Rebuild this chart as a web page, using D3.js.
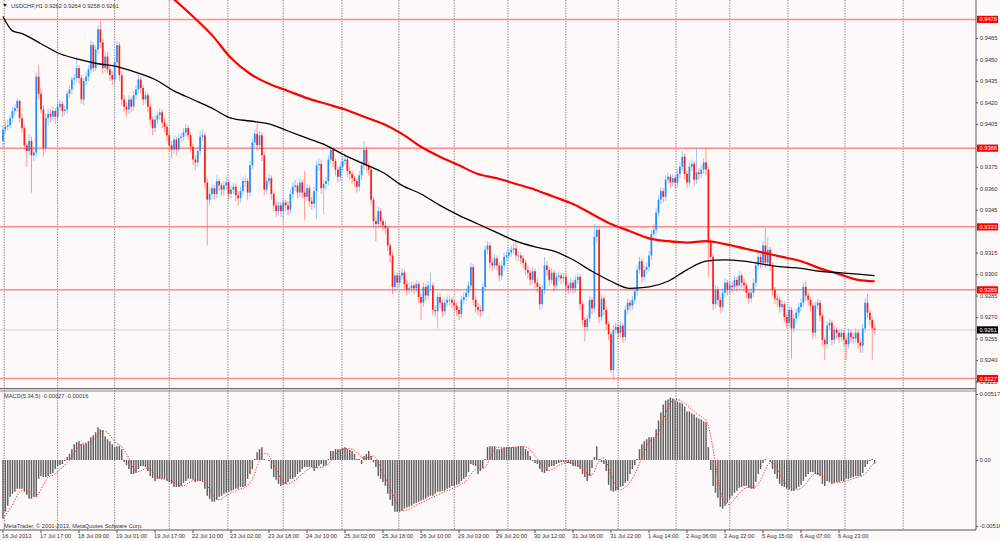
<!DOCTYPE html>
<html>
<head>
<meta charset="utf-8">
<script src="https://cdn.jsdelivr.net/npm/d3@7/dist/d3.min.js"></script>
<style>
  html, body { margin: 0; padding: 0; background: #fdf9f8; }
  svg { display: block; font-family: "Liberation Sans", Arial, sans-serif; }
</style>
</head>
<body>
<svg id="chart" width="1000" height="541"></svg>
<script>
// ---- USDCHF H1, 16 Jul - 7 Aug 2013 ----
const symbolTitle = 'USDCHF,H1  0.9262 0.9264 0.9258 0.9261';
const macdTitle   = 'MACD(5,34,5) -0.00027 -0.00016';
const copyright   = 'MetaTrader, \u00a9 2001-2013, MetaQuotes Software Corp.';

const firstOpen = 0.9393;
const closes = [
  0.9401,0.9403,0.9404,0.9409,0.9414,0.9416,0.9421,0.9409,0.9402,0.9390,
  0.9386,0.9393,0.9383,0.9385,0.9438,0.9426,0.9415,0.9388,0.9409,0.9412,
  0.9410,0.9414,0.9410,0.9417,0.9419,0.9414,0.9415,0.9426,0.9429,0.9436,
  0.9437,0.9444,0.9437,0.9422,0.9435,0.9438,0.9443,0.9460,0.9444,0.9457,
  0.9471,0.9462,0.9444,0.9452,0.9443,0.9439,0.9436,0.9448,0.9460,0.9439,
  0.9422,0.9417,0.9415,0.9422,0.9417,0.9425,0.9429,0.9436,0.9430,0.9422,
  0.9425,0.9417,0.9408,0.9402,0.9408,0.9411,0.9413,0.9406,0.9403,0.9397,
  0.9390,0.9387,0.9394,0.9387,0.9395,0.9396,0.9399,0.9402,0.9397,0.9389,
  0.9380,0.9378,0.9386,0.9396,0.9397,0.9364,0.9352,0.9356,0.9360,0.9356,
  0.9365,0.9362,0.9359,0.9362,0.9364,0.9356,0.9359,0.9361,0.9355,0.9353,
  0.9358,0.9365,0.9365,0.9357,0.9376,0.9392,0.9398,0.9390,0.9397,0.9383,
  0.9359,0.9365,0.9367,0.9356,0.9348,0.9344,0.9348,0.9344,0.9350,0.9348,
  0.9345,0.9356,0.9361,0.9362,0.9357,0.9364,0.9357,0.9354,0.9360,0.9351,
  0.9349,0.9358,0.9376,0.9377,0.9360,0.9363,0.9365,0.9380,0.9387,0.9379,
  0.9373,0.9368,0.9375,0.9379,0.9380,0.9372,0.9370,0.9367,0.9365,0.9361,
  0.9369,0.9376,0.9387,0.9376,0.9373,0.9352,0.9337,0.9335,0.9344,0.9337,
  0.9334,0.9332,0.9320,0.9313,0.9291,0.9299,0.9294,0.9299,0.9301,0.9293,
  0.9289,0.9290,0.9292,0.9290,0.9293,0.9284,0.9280,0.9291,0.9285,0.9292,
  0.9292,0.9275,0.9274,0.9284,0.9280,0.9274,0.9280,0.9282,0.9282,0.9280,
  0.9278,0.9275,0.9272,0.9282,0.9284,0.9287,0.9292,0.9305,0.9282,0.9277,
  0.9275,0.9274,0.9291,0.9317,0.9320,0.9308,0.9306,0.9311,0.9306,0.9299,
  0.9306,0.9312,0.9313,0.9315,0.9317,0.9318,0.9313,0.9313,0.9311,0.9308,
  0.9303,0.9301,0.9296,0.9302,0.9294,0.9291,0.9279,0.9289,0.9306,0.9303,
  0.9296,0.9301,0.9292,0.9298,0.9299,0.9297,0.9298,0.9292,0.9290,0.9294,
  0.9290,0.9296,0.9298,0.9279,0.9268,0.9263,0.9269,0.9282,0.9276,0.9326,
  0.9331,0.9270,0.9283,0.9275,0.9265,0.9258,0.9233,0.9261,0.9263,0.9259,
  0.9264,0.9256,0.9275,0.9280,0.9278,0.9282,0.9288,0.9303,0.9309,0.9298,
  0.9303,0.9305,0.9313,0.9328,0.9331,0.9343,0.9352,0.9358,0.9354,0.9366,
  0.9368,0.9364,0.9367,0.9364,0.9370,0.9375,0.9382,0.9370,0.9364,0.9375,
  0.9377,0.9366,0.9371,0.9370,0.9373,0.9378,0.9373,0.9322,0.9312,0.9279,
  0.9289,0.9282,0.9277,0.9287,0.9294,0.9289,0.9292,0.9291,0.9296,0.9292,
  0.9299,0.9294,0.9292,0.9287,0.9283,0.9287,0.9294,0.9306,0.9312,0.9308,
  0.9320,0.9308,0.9317,0.9306,0.9289,0.9283,0.9282,0.9277,0.9279,0.9270,
  0.9266,0.9275,0.9262,0.9269,0.9273,0.9277,0.9280,0.9291,0.9285,0.9282,
  0.9278,0.9259,0.9278,0.9280,0.9271,0.9254,0.9251,0.9264,0.9266,0.9254,
  0.9261,0.9259,0.9256,0.9259,0.9254,0.9251,0.9259,0.9256,0.9255,0.9259,
  0.9252,0.9250,0.9262,0.9280,0.9273,0.9268,0.9262,0.9261
];
const highs = [
  0.9404,0.9407,0.9408,0.9411,0.9417,0.9419,0.9423,0.9422,0.9412,0.9404,
  0.9392,0.9398,0.9396,0.9389,0.9441,0.9446,0.9430,0.9418,0.9412,0.9416,
  0.9415,0.9417,0.9416,0.9420,0.9422,0.9421,0.9418,0.9428,0.9432,0.9438,
  0.9440,0.9452,0.9446,0.9439,0.9437,0.9441,0.9446,0.9463,0.9462,0.9460,
  0.9474,0.9477,0.9464,0.9456,0.9455,0.9446,0.9442,0.9451,0.9463,0.9462,
  0.9442,0.9425,0.9420,0.9425,0.9424,0.9428,0.9432,0.9440,0.9438,0.9432,
  0.9428,0.9427,0.9419,0.9410,0.9411,0.9414,0.9416,0.9415,0.9409,0.9405,
  0.9399,0.9393,0.9397,0.9396,0.9398,0.9399,0.9402,0.9405,0.9404,0.9399,
  0.9391,0.9383,0.9389,0.9400,0.9401,0.9399,0.9367,0.9360,0.9363,0.9362,
  0.9369,0.9367,0.9364,0.9365,0.9368,0.9366,0.9362,0.9364,0.9363,0.9358,
  0.9361,0.9368,0.9369,0.9367,0.9379,0.9395,0.9401,0.9405,0.9400,0.9399,
  0.9385,0.9368,0.9370,0.9369,0.9358,0.9350,0.9351,0.9350,0.9353,0.9352,
  0.9351,0.9359,0.9364,0.9366,0.9364,0.9367,0.9366,0.9372,0.9363,0.9362,
  0.9354,0.9361,0.9379,0.9381,0.9380,0.9366,0.9368,0.9383,0.9390,0.9389,
  0.9381,0.9375,0.9378,0.9382,0.9384,0.9382,0.9375,0.9372,0.9369,0.9367,
  0.9372,0.9379,0.9393,0.9389,0.9378,0.9375,0.9354,0.9340,0.9347,0.9346,
  0.9339,0.9337,0.9334,0.9322,0.9315,0.9302,0.9301,0.9302,0.9304,0.9303,
  0.9296,0.9294,0.9295,0.9294,0.9296,0.9295,0.9286,0.9294,0.9293,0.9295,
  0.9301,0.9294,0.9278,0.9287,0.9287,0.9282,0.9283,0.9285,0.9285,0.9284,
  0.9282,0.9280,0.9277,0.9285,0.9287,0.9290,0.9295,0.9308,0.9307,0.9285,
  0.9280,0.9278,0.9294,0.9320,0.9323,0.9322,0.9311,0.9314,0.9313,0.9308,
  0.9309,0.9315,0.9316,0.9318,0.9320,0.9322,0.9324,0.9316,0.9315,0.9313,
  0.9310,0.9306,0.9303,0.9305,0.9304,0.9297,0.9293,0.9292,0.9312,0.9309,
  0.9305,0.9304,0.9303,0.9301,0.9302,0.9301,0.9301,0.9300,0.9294,0.9297,
  0.9296,0.9299,0.9301,0.9300,0.9281,0.9270,0.9272,0.9285,0.9284,0.9335,
  0.9334,0.9333,0.9286,0.9285,0.9277,0.9267,0.9260,0.9264,0.9266,0.9265,
  0.9267,0.9266,0.9278,0.9283,0.9282,0.9285,0.9291,0.9306,0.9312,0.9311,
  0.9306,0.9308,0.9316,0.9331,0.9335,0.9346,0.9355,0.9361,0.9360,0.9369,
  0.9371,0.9370,0.9370,0.9369,0.9373,0.9378,0.9386,0.9384,0.9372,0.9378,
  0.9380,0.9379,0.9388,0.9374,0.9376,0.9381,0.9388,0.9375,0.9325,0.9314,
  0.9292,0.9291,0.9284,0.9290,0.9297,0.9296,0.9295,0.9295,0.9299,0.9298,
  0.9302,0.9301,0.9297,0.9294,0.9289,0.9290,0.9297,0.9309,0.9315,0.9314,
  0.9323,0.9332,0.9326,0.9319,0.9308,0.9291,0.9286,0.9284,0.9282,0.9281,
  0.9272,0.9278,0.9277,0.9272,0.9276,0.9280,0.9283,0.9294,0.9295,0.9287,
  0.9284,0.9280,0.9281,0.9283,0.9282,0.9273,0.9256,0.9267,0.9269,0.9268,
  0.9264,0.9263,0.9261,0.9262,0.9261,0.9256,0.9262,0.9261,0.9259,0.9262,
  0.9261,0.9254,0.9265,0.9283,0.9286,0.9275,0.9270,0.9264
];
const lows = [
  0.9388,0.9398,0.9400,0.9402,0.9406,0.9411,0.9413,0.9406,0.9399,0.9387,
  0.9375,0.9383,0.9357,0.9379,0.9382,0.9422,0.9412,0.9382,0.9385,0.9404,
  0.9406,0.9407,0.9405,0.9407,0.9414,0.9410,0.9411,0.9412,0.9423,0.9426,
  0.9432,0.9434,0.9433,0.9419,0.9418,0.9432,0.9435,0.9440,0.9441,0.9442,
  0.9454,0.9458,0.9440,0.9441,0.9440,0.9435,0.9432,0.9433,0.9445,0.9435,
  0.9418,0.9413,0.9410,0.9412,0.9413,0.9414,0.9422,0.9426,0.9426,0.9418,
  0.9419,0.9413,0.9404,0.9397,0.9399,0.9405,0.9408,0.9402,0.9399,0.9393,
  0.9386,0.9381,0.9384,0.9383,0.9385,0.9392,0.9393,0.9396,0.9394,0.9385,
  0.9376,0.9373,0.9375,0.9383,0.9393,0.9360,0.9320,0.9348,0.9352,0.9352,
  0.9353,0.9358,0.9355,0.9355,0.9359,0.9352,0.9353,0.9356,0.9351,0.9348,
  0.9350,0.9355,0.9361,0.9352,0.9354,0.9373,0.9389,0.9386,0.9387,0.9379,
  0.9355,0.9356,0.9362,0.9352,0.9344,0.9340,0.9341,0.9340,0.9339,0.9344,
  0.9341,0.9342,0.9353,0.9358,0.9353,0.9354,0.9353,0.9338,0.9351,0.9347,
  0.9345,0.9346,0.9339,0.9372,0.9356,0.9342,0.9359,0.9362,0.9377,0.9375,
  0.9369,0.9364,0.9365,0.9372,0.9376,0.9368,0.9366,0.9363,0.9361,0.9357,
  0.9358,0.9366,0.9373,0.9372,0.9369,0.9348,0.9333,0.9323,0.9332,0.9333,
  0.9330,0.9328,0.9316,0.9308,0.9286,0.9287,0.9290,0.9291,0.9296,0.9289,
  0.9285,0.9286,0.9287,0.9286,0.9287,0.9280,0.9268,0.9277,0.9281,0.9282,
  0.9288,0.9271,0.9270,0.9262,0.9276,0.9270,0.9271,0.9277,0.9278,0.9276,
  0.9274,0.9271,0.9268,0.9269,0.9279,0.9281,0.9284,0.9289,0.9278,0.9273,
  0.9271,0.9270,0.9271,0.9288,0.9314,0.9304,0.9302,0.9303,0.9302,0.9295,
  0.9296,0.9303,0.9309,0.9310,0.9312,0.9314,0.9310,0.9309,0.9307,0.9304,
  0.9299,0.9297,0.9292,0.9293,0.9290,0.9287,0.9275,0.9276,0.9286,0.9299,
  0.9292,0.9293,0.9288,0.9289,0.9295,0.9293,0.9294,0.9288,0.9286,0.9287,
  0.9286,0.9287,0.9293,0.9275,0.9264,0.9253,0.9260,0.9266,0.9272,0.9273,
  0.9322,0.9266,0.9267,0.9271,0.9261,0.9254,0.9231,0.9227,0.9258,0.9255,
  0.9256,0.9252,0.9253,0.9272,0.9274,0.9275,0.9279,0.9285,0.9300,0.9294,
  0.9295,0.9300,0.9302,0.9310,0.9325,0.9328,0.9340,0.9349,0.9350,0.9351,
  0.9363,0.9360,0.9361,0.9360,0.9361,0.9367,0.9372,0.9366,0.9360,0.9361,
  0.9372,0.9362,0.9363,0.9366,0.9367,0.9370,0.9369,0.9298,0.9308,0.9275,
  0.9276,0.9278,0.9273,0.9274,0.9284,0.9285,0.9286,0.9287,0.9288,0.9288,
  0.9289,0.9290,0.9288,0.9283,0.9279,0.9280,0.9284,0.9291,0.9303,0.9304,
  0.9305,0.9304,0.9305,0.9302,0.9285,0.9279,0.9278,0.9273,0.9274,0.9266,
  0.9262,0.9263,0.9241,0.9259,0.9266,0.9270,0.9274,0.9277,0.9281,0.9278,
  0.9274,0.9255,0.9256,0.9275,0.9267,0.9250,0.9240,0.9248,0.9261,0.9250,
  0.9251,0.9255,0.9252,0.9253,0.9250,0.9240,0.9248,0.9252,0.9251,0.9252,
  0.9248,0.9245,0.9245,0.9259,0.9269,0.9264,0.9240,0.9258
];

// moving averages read at selected bars
const blackMaBars = [0,4,8,16,24,32,40,48,56,64,72,80,88,96,104,112,120,128,136,144,152,160,168,176,184,
  192,200,208,216,224,232,240,248,256,264,272,280,288,296,304,312,320,328,336,344,352,360,367];
const blackMaVals = [0.9480,0.9470,0.9468,0.9461,0.9454,0.9450,0.9447,0.9445,0.9441,0.9436,0.9428,0.9422,
  0.9416,0.9409,0.9407,0.9405,0.9400,0.9395,0.9390,0.9383,0.9377,0.9371,0.9362,0.9356,0.9348,0.9341,
  0.9335,0.9329,0.9323,0.9319,0.9316,0.9310,0.9302,0.9295,0.9290,0.9291,0.9295,0.9303,0.9309,0.9310,
  0.9309,0.9307,0.9305,0.9304,0.9302,0.9301,0.9300,0.9299];
const redMaBars = [70,80,88,96,104,112,120,128,136,144,152,160,168,176,184,192,200,208,216,224,232,240,
  248,256,264,272,280,288,296,304,312,320,328,336,344,352,360,367];
const redMaVals = [0.9495,0.9480,0.9467,0.9451,0.9440,0.9433,0.9428,0.9423,0.9419,0.9415,0.9410,0.9405,
  0.9398,0.9389,0.9382,0.9376,0.9370,0.9367,0.9363,0.9359,0.9354,0.9349,0.9342,0.9335,0.9330,0.9325,
  0.9323,0.9322,0.9323,0.9321,0.9318,0.9315,0.9312,0.9309,0.9304,0.9300,0.9296,0.9295];

const macdHist = [
  -0.00458,-0.00404,-0.00357,-0.00287,-0.00264,-0.00248,-0.00225,-0.00225,-0.00225,-0.00248,
  -0.00272,-0.00303,-0.00303,-0.00287,-0.00287,-0.00147,-0.00124,-0.00132,-0.00132,-0.00124,
  -0.00109,-0.00101,-0.00070,-0.00047,-0.00039,-0.00031,-0.00008,0.00023,0.00047,0.00085,
  0.00124,0.00140,0.00147,0.00124,0.00124,0.00132,0.00147,0.00178,0.00194,0.00217,
  0.00256,0.00241,0.00233,0.00186,0.00163,0.00147,0.00124,0.00101,0.00109,0.00109,
  0.00085,-0.00016,-0.00039,-0.00070,-0.00109,-0.00109,-0.00101,-0.00070,-0.00047,-0.00047,
  -0.00054,-0.00085,-0.00124,-0.00140,-0.00163,-0.00147,-0.00147,-0.00147,-0.00147,-0.00163,
  -0.00171,-0.00186,-0.00210,-0.00210,-0.00210,-0.00202,-0.00178,-0.00163,-0.00147,-0.00147,
  -0.00155,-0.00171,-0.00163,-0.00163,-0.00171,-0.00225,-0.00279,-0.00303,-0.00326,-0.00326,
  -0.00310,-0.00287,-0.00279,-0.00264,-0.00256,-0.00248,-0.00241,-0.00233,-0.00225,-0.00225,
  -0.00210,-0.00210,-0.00202,-0.00147,-0.00109,-0.00070,0.00008,0.00062,0.00085,0.00101,
  0.00008,0.00000,-0.00008,-0.00070,-0.00132,-0.00155,-0.00186,-0.00202,-0.00194,-0.00186,
  -0.00171,-0.00147,-0.00147,-0.00132,-0.00109,-0.00093,-0.00070,-0.00054,-0.00054,-0.00054,
  -0.00054,-0.00085,-0.00062,-0.00047,-0.00031,-0.00047,-0.00039,0.00008,0.00070,0.00070,
  0.00085,0.00085,0.00085,0.00093,0.00101,0.00085,0.00078,0.00070,0.00047,0.00008,
  0.00008,-0.00031,0.00031,0.00047,0.00070,0.00031,-0.00016,-0.00054,-0.00124,-0.00147,
  -0.00171,-0.00202,-0.00264,-0.00310,-0.00357,-0.00404,-0.00404,-0.00404,-0.00396,-0.00380,
  -0.00372,-0.00365,-0.00357,-0.00341,-0.00334,-0.00326,-0.00318,-0.00310,-0.00303,-0.00287,
  -0.00279,-0.00279,-0.00264,-0.00248,-0.00248,-0.00241,-0.00241,-0.00225,-0.00217,-0.00202,
  -0.00202,-0.00194,-0.00186,-0.00163,-0.00147,-0.00132,-0.00093,-0.00031,-0.00039,-0.00047,
  -0.00109,-0.00085,-0.00062,0.00008,0.00101,0.00109,0.00109,0.00109,0.00085,0.00085,
  0.00093,0.00101,0.00101,0.00101,0.00101,0.00101,0.00101,0.00109,0.00109,0.00109,
  0.00085,0.00070,0.00031,-0.00008,-0.00023,-0.00031,-0.00070,-0.00093,-0.00101,-0.00085,
  -0.00054,-0.00047,-0.00047,-0.00031,-0.00023,-0.00016,-0.00016,-0.00016,-0.00023,-0.00031,
  -0.00047,-0.00047,-0.00054,-0.00070,-0.00109,-0.00132,-0.00163,-0.00124,-0.00062,0.00023,
  0.00109,0.00008,-0.00016,-0.00031,-0.00085,-0.00194,-0.00241,-0.00248,-0.00241,-0.00233,
  -0.00210,-0.00202,-0.00178,-0.00163,-0.00109,-0.00070,-0.00039,0.00008,0.00085,0.00124,
  0.00147,0.00163,0.00178,0.00178,0.00178,0.00241,0.00310,0.00372,0.00435,0.00466,
  0.00473,0.00489,0.00481,0.00466,0.00458,0.00450,0.00442,0.00419,0.00380,0.00380,
  0.00365,0.00357,0.00334,0.00326,0.00318,0.00303,0.00295,0.00101,-0.00078,-0.00202,
  -0.00256,-0.00295,-0.00365,-0.00380,-0.00357,-0.00334,-0.00303,-0.00279,-0.00256,-0.00241,
  -0.00217,-0.00210,-0.00202,-0.00202,-0.00217,-0.00225,-0.00225,-0.00171,-0.00109,-0.00070,
  -0.00023,0.00008,0.00000,-0.00016,-0.00070,-0.00109,-0.00147,-0.00186,-0.00202,-0.00210,
  -0.00225,-0.00233,-0.00241,-0.00241,-0.00225,-0.00210,-0.00194,-0.00163,-0.00132,-0.00109,
  -0.00093,-0.00093,-0.00109,-0.00116,-0.00124,-0.00186,-0.00202,-0.00163,-0.00171,-0.00186,
  -0.00178,-0.00171,-0.00171,-0.00163,-0.00163,-0.00147,-0.00147,-0.00140,-0.00132,-0.00124,
  -0.00124,-0.00124,-0.00101,-0.00054,-0.00031,-0.00008,0.00008,-0.00027
];

const levelLines  = [0.9478, 0.9388, 0.9333, 0.9289, 0.9227];
const lastPrice   = 0.9261;
// 0.9390 and 0.9330 sit under the red level tags, so they are not labelled
const priceTicks  = [0.9465,0.9450,0.9435,0.9420,0.9405,0.9375,0.9360,0.9345,
  0.9315,0.9300,0.9285,0.9270,0.9255,0.9240,0.9225];
const macdTicks   = [0.00517, 0, -0.00516];
const macdTickLabels = ['0.00517', '0.00', '-0.00516'];
const gridBars    = [0.5,23,47,70,94.7,118,142.7,166.7,190,212.6,237,259,283.4,306,330.5,354.5,379];
const timeLabels  = ['16 Jul 2013','17 Jul 17:00','18 Jul 09:00','19 Jul 01:00','19 Jul 17:00',
  '22 Jul 10:00','23 Jul 02:00','23 Jul 18:00','24 Jul 10:00','25 Jul 02:00','25 Jul 18:00',
  '26 Jul 10:00','29 Jul 03:00','29 Jul 20:00','30 Jul 12:00','31 Jul 06:00','31 Jul 22:00',
  '1 Aug 14:00','2 Aug 06:00','2 Aug 22:00','5 Aug 15:00','6 Aug 07:00','6 Aug 23:00'];
const labelEvery  = 16;

// ---- layout ----
const axisX = 976;
const mainBottom = 389;
const macdTop = 392, macdBottom = 530;
const fontSize = '5.7px';

const svg = d3.select('#chart');

const x  = d3.scaleLinear().domain([0, 410]).range([3, 3 + 410 * 2.375]);
const y  = d3.scaleLinear().domain([0.92197, 0.949155]).range([mainBottom, 0]);
const ym = d3.scaleLinear().domain([-0.00516, 0.00517]).range([526, 394]);

svg.append('rect').attr('width', 1000).attr('height', 541).attr('fill', '#fdf9f8');

const defs = svg.append('defs');
defs.append('clipPath').attr('id', 'clipMain')
  .append('rect').attr('x', 0).attr('y', 0).attr('width', axisX).attr('height', mainBottom - 1);
defs.append('clipPath').attr('id', 'clipMacd')
  .append('rect').attr('x', 0).attr('y', macdTop).attr('width', axisX).attr('height', macdBottom - macdTop);

// vertical dotted grid (both panels)
svg.append('g').selectAll('line')
  .data(gridBars).enter().append('line')
    .attr('x1', d => x(d)).attr('x2', d => x(d))
    .attr('y1', 0).attr('y2', macdBottom)
    .attr('stroke', '#6e6e6e')
    .attr('stroke-width', 0.9)
    .attr('stroke-dasharray', '1.3,1.3');

// ---- main panel ----
const main = svg.append('g').attr('clip-path', 'url(#clipMain)');

main.selectAll('line.level')
  .data(levelLines).enter().append('line')
    .attr('class', 'level')
    .attr('x1', 0).attr('x2', axisX)
    .attr('y1', d => y(d)).attr('y2', d => y(d))
    .attr('stroke', '#ff8a8a').attr('stroke-width', 1.5);

main.append('line')
  .attr('x1', 0).attr('x2', axisX)
  .attr('y1', y(lastPrice)).attr('y2', y(lastPrice))
  .attr('stroke', '#cfcfcf').attr('stroke-width', 1);

const bars = closes.map((c, i) => {
  const o = i ? closes[i - 1] : firstOpen;
  return { i, o, c, h: Math.max(highs[i], o, c), l: Math.min(lows[i], o, c) };
});
const bullCol = '#1e8fff', bearCol = '#ff1a1a';

main.append('g').selectAll('line')
  .data(bars).enter().append('line')
    .attr('x1', d => x(d.i)).attr('x2', d => x(d.i))
    .attr('y1', d => y(d.h)).attr('y2', d => y(d.l))
    .attr('stroke', d => d.c >= d.o ? bullCol : bearCol)
    .attr('stroke-opacity', 0.45)
    .attr('stroke-width', 1);

main.append('g').selectAll('rect')
  .data(bars).enter().append('rect')
    .attr('x', d => x(d.i) - 0.85)
    .attr('width', 1.7)
    .attr('y', d => y(Math.max(d.o, d.c)))
    .attr('height', d => Math.max(0.8, Math.abs(y(d.o) - y(d.c))))
    .attr('fill', d => d.c >= d.o ? bullCol : bearCol);

const maLine = d3.line().x(d => x(d[0])).y(d => y(d[1])).curve(d3.curveMonotoneX);
main.append('path')
  .attr('d', maLine(redMaBars.map((b, k) => [b, redMaVals[k]])))
  .attr('fill', 'none').attr('stroke', '#ff0000').attr('stroke-width', 2.2);
main.append('path')
  .attr('d', maLine(blackMaBars.map((b, k) => [b, blackMaVals[k]])))
  .attr('fill', 'none').attr('stroke', '#000000').attr('stroke-width', 1.3);

// ---- MACD panel ----
const macd = svg.append('g').attr('clip-path', 'url(#clipMacd)');
macd.selectAll('line')
  .data(macdHist).enter().append('line')
    .attr('x1', (d, i) => x(i)).attr('x2', (d, i) => x(i))
    .attr('y1', ym(0)).attr('y2', d => ym(d))
    .attr('stroke', '#5e5e5e').attr('stroke-width', 1.45);

const signal = macdHist.map((v, i) => {
  const win = macdHist.slice(Math.max(0, i - 4), i + 1);
  return d3.mean(win);
});
macd.append('path')
  .attr('d', d3.line().x((d, i) => x(i)).y(d => ym(d))(signal))
  .attr('fill', 'none').attr('stroke', '#ff2a2a')
  .attr('stroke-width', 1).attr('stroke-dasharray', '1.3,1.5');

// ---- frames ----
svg.append('line').attr('x1', 0).attr('x2', axisX).attr('y1', 388.6).attr('y2', 388.6)
  .attr('stroke', '#6a6a6a').attr('stroke-width', 1.3);
svg.append('line').attr('x1', 0).attr('x2', axisX).attr('y1', 391).attr('y2', 391)
  .attr('stroke', '#8a8a8a').attr('stroke-width', 1);
svg.append('line').attr('x1', axisX).attr('x2', axisX).attr('y1', 0).attr('y2', macdBottom)
  .attr('stroke', '#555').attr('stroke-width', 1);
svg.append('line').attr('x1', 0).attr('x2', axisX).attr('y1', macdBottom).attr('y2', macdBottom)
  .attr('stroke', '#555').attr('stroke-width', 1);

// ---- price axis ----
const pAxis = svg.append('g')
  .attr('transform', `translate(${axisX},0)`)
  .call(d3.axisRight(y).tickValues(priceTicks).tickSize(2).tickPadding(2)
    .tickFormat(d3.format('.4f')));
pAxis.select('.domain').remove();
pAxis.selectAll('text').style('font-size', fontSize).attr('fill', '#333');
pAxis.selectAll('line').attr('stroke', '#555');

const mAxis = svg.append('g')
  .attr('transform', `translate(${axisX},0)`)
  .call(d3.axisRight(ym).tickValues(macdTicks).tickSize(2).tickPadding(1.5)
    .tickFormat((d, i) => macdTickLabels[i]));
mAxis.select('.domain').remove();
mAxis.selectAll('text').style('font-size', fontSize).attr('fill', '#333');
mAxis.selectAll('line').attr('stroke', '#555');

// price tags on the axis
const tags = levelLines.map(v => ({ v, bg: '#ff0000' })).concat([{ v: lastPrice, bg: '#000000' }]);
const tagG = svg.append('g').selectAll('g').data(tags).enter().append('g')
  .attr('transform', d => `translate(${axisX + 1},${y(d.v)})`);
tagG.append('rect').attr('x', 0).attr('y', -3.6).attr('width', 21).attr('height', 7.2)
  .attr('fill', d => d.bg);
tagG.append('text').attr('x', 2.5).attr('y', 2)
  .style('font-size', fontSize).attr('fill', '#ffffff')
  .text(d => d3.format('.4f')(d.v));

// ---- time axis ----
const tG = svg.append('g');
timeLabels.forEach((t, k) => {
  const xb = x(k * labelEvery);
  tG.append('line').attr('x1', xb).attr('x2', xb).attr('y1', macdBottom).attr('y2', macdBottom + 3)
    .attr('stroke', '#555');
  tG.append('text').attr('x', xb - 1).attr('y', 538)
    .style('font-size', fontSize).attr('fill', '#333').text(t);
});

// ---- titles ----
svg.append('path').attr('d', 'M3,4 L7,4 L5,7 Z').attr('fill', '#333');
svg.append('text').attr('x', 11).attr('y', 8.3).style('font-size', fontSize).attr('fill', '#333')
  .text(symbolTitle);
svg.append('text').attr('x', 4).attr('y', 398).style('font-size', fontSize).attr('fill', '#333')
  .text(macdTitle);
svg.append('text').attr('x', 4).attr('y', 527.5).style('font-size', fontSize).attr('fill', '#333')
  .text(copyright);
</script>
</body>
</html>
